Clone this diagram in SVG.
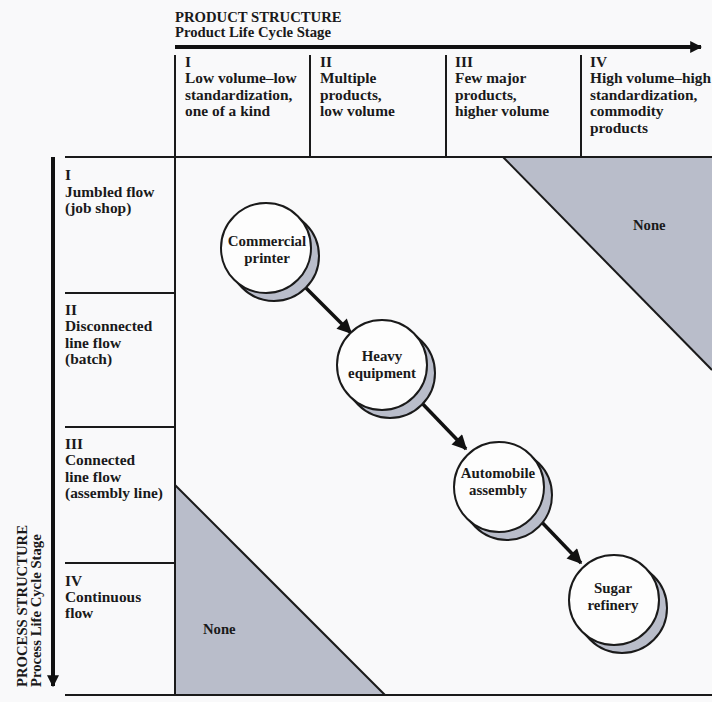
<svg xmlns="http://www.w3.org/2000/svg" width="712" height="702" viewBox="0 0 712 702">
<defs>
<style>
.t{font-family:"Liberation Serif","DejaVu Serif",serif;font-weight:bold;fill:#1a1a1a;font-size:15.4px}
.h{font-size:14.7px}
.c{text-anchor:middle;font-size:14.9px}
.ln{stroke:#1a1a1a;stroke-width:2;fill:none}
.sh{fill:#b9bdca;stroke:#1a1a1a;stroke-width:2}
.cf{fill:#fdfdfd;stroke:#1a1a1a;stroke-width:2}
.ar{stroke:#111;stroke-width:3.5;fill:none;marker-end:url(#ah)}
</style>
<marker id="ah" viewBox="0 0 10 10" refX="9" refY="5" markerWidth="4.4" markerHeight="4.2" orient="auto" markerUnits="strokeWidth">
<path d="M0,0 L10,5 L0,10 z" fill="#111"/>
</marker>
<marker id="big" viewBox="0 0 10 10" refX="9" refY="5" markerWidth="3" markerHeight="3" orient="auto" markerUnits="strokeWidth">
<path d="M0,0 L10,5 L0,10 z" fill="#111"/>
</marker>
</defs>
<rect width="712" height="702" fill="#f9f9fa"/>

<g id="shading">
<polygon points="503,157 712,157 712,370" fill="#b9bdca"/>
<line x1="503" y1="157" x2="712" y2="370" class="ln"/>
<polygon points="175,485 175,695 385,695" fill="#b9bdca"/>
<line x1="175" y1="485" x2="385" y2="695" class="ln"/>
<text class="t h" x="633" y="230">None</text>
<text class="t h" x="203" y="634">None</text>
</g>

<g id="grid">
<line x1="175" y1="47" x2="701" y2="47" stroke="#111" stroke-width="4" marker-end="url(#big)"/>
<line x1="53" y1="157" x2="53" y2="686" stroke="#111" stroke-width="4" marker-end="url(#big)"/>
<line x1="175" y1="55" x2="175" y2="695" class="ln"/>
<line x1="310" y1="55" x2="310" y2="157" class="ln"/>
<line x1="446" y1="55" x2="446" y2="157" class="ln"/>
<line x1="581" y1="55" x2="581" y2="157" class="ln"/>
<line x1="65" y1="157" x2="712" y2="157" class="ln"/>
<line x1="65" y1="293" x2="175" y2="293" class="ln"/>
<line x1="65" y1="427" x2="175" y2="427" class="ln"/>
<line x1="65" y1="563" x2="175" y2="563" class="ln"/>
<line x1="65" y1="695" x2="712" y2="695" class="ln"/>
</g>

<g id="product-header">
<text class="t h" x="175" y="22">PRODUCT STRUCTURE</text>
<text class="t h" x="175" y="37">Product Life Cycle Stage</text>
</g>

<g id="col-1">
<text class="t" x="185" y="67">I</text>
<text class="t" x="185" y="83">Low volume–low</text>
<text class="t" x="185" y="99.5">standardization,</text>
<text class="t" x="185" y="116">one of a kind</text>
</g>
<g id="col-2">
<text class="t" x="320" y="67">II</text>
<text class="t" x="320" y="83">Multiple</text>
<text class="t" x="320" y="99.5">products,</text>
<text class="t" x="320" y="116">low volume</text>
</g>
<g id="col-3">
<text class="t" x="455" y="67">III</text>
<text class="t" x="455" y="83">Few major</text>
<text class="t" x="455" y="99.5">products,</text>
<text class="t" x="455" y="116">higher volume</text>
</g>
<g id="col-4">
<text class="t" x="590" y="67">IV</text>
<text class="t" x="590" y="83">High volume–high</text>
<text class="t" x="590" y="99.5">standardization,</text>
<text class="t" x="590" y="116">commodity</text>
<text class="t" x="590" y="132.5">products</text>
</g>

<g id="process-header">
<text class="t h" transform="translate(27,687) rotate(-90)">PROCESS STRUCTURE</text>
<text class="t h" transform="translate(41,687) rotate(-90)">Process Life Cycle Stage</text>
</g>

<g id="row-1">
<text class="t" x="65" y="180">I</text>
<text class="t" x="65" y="197">Jumbled flow</text>
<text class="t" x="65" y="213">(job shop)</text>
</g>
<g id="row-2">
<text class="t" x="65" y="315">II</text>
<text class="t" x="65" y="331">Disconnected</text>
<text class="t" x="65" y="347.5">line flow</text>
<text class="t" x="65" y="364">(batch)</text>
</g>
<g id="row-3">
<text class="t" x="65" y="449">III</text>
<text class="t" x="65" y="465">Connected</text>
<text class="t" x="65" y="481.5">line flow</text>
<text class="t" x="65" y="498">(assembly line)</text>
</g>
<g id="row-4">
<text class="t" x="65" y="586">IV</text>
<text class="t" x="65" y="602">Continuous</text>
<text class="t" x="65" y="618">flow</text>
</g>

<g id="connectors">
<line x1="300" y1="282" x2="351" y2="333" class="ar"/>
<line x1="417" y1="398" x2="466" y2="449" class="ar"/>
<line x1="533" y1="513" x2="581" y2="563" class="ar"/>
</g>

<g id="commercial-printer">
<circle cx="274" cy="256" r="45" class="sh"/>
<circle cx="266" cy="248" r="45" class="cf"/>
<text class="t c" x="267" y="246">Commercial</text>
<text class="t c" x="267" y="263">printer</text>
</g>
<g id="heavy-equipment">
<circle cx="390" cy="373" r="45" class="sh"/>
<circle cx="382" cy="365" r="45" class="cf"/>
<text class="t c" x="382" y="361">Heavy</text>
<text class="t c" x="382" y="378">equipment</text>
</g>
<g id="automobile-assembly">
<circle cx="507" cy="495" r="45" class="sh"/>
<circle cx="499" cy="487" r="45" class="cf"/>
<text class="t c" x="498" y="478">Automobile</text>
<text class="t c" x="498" y="495">assembly</text>
</g>
<g id="sugar-refinery">
<circle cx="622" cy="608" r="45" class="sh"/>
<circle cx="614" cy="600" r="45" class="cf"/>
<text class="t c" x="613" y="593">Sugar</text>
<text class="t c" x="613" y="610">refinery</text>
</g>
</svg>
